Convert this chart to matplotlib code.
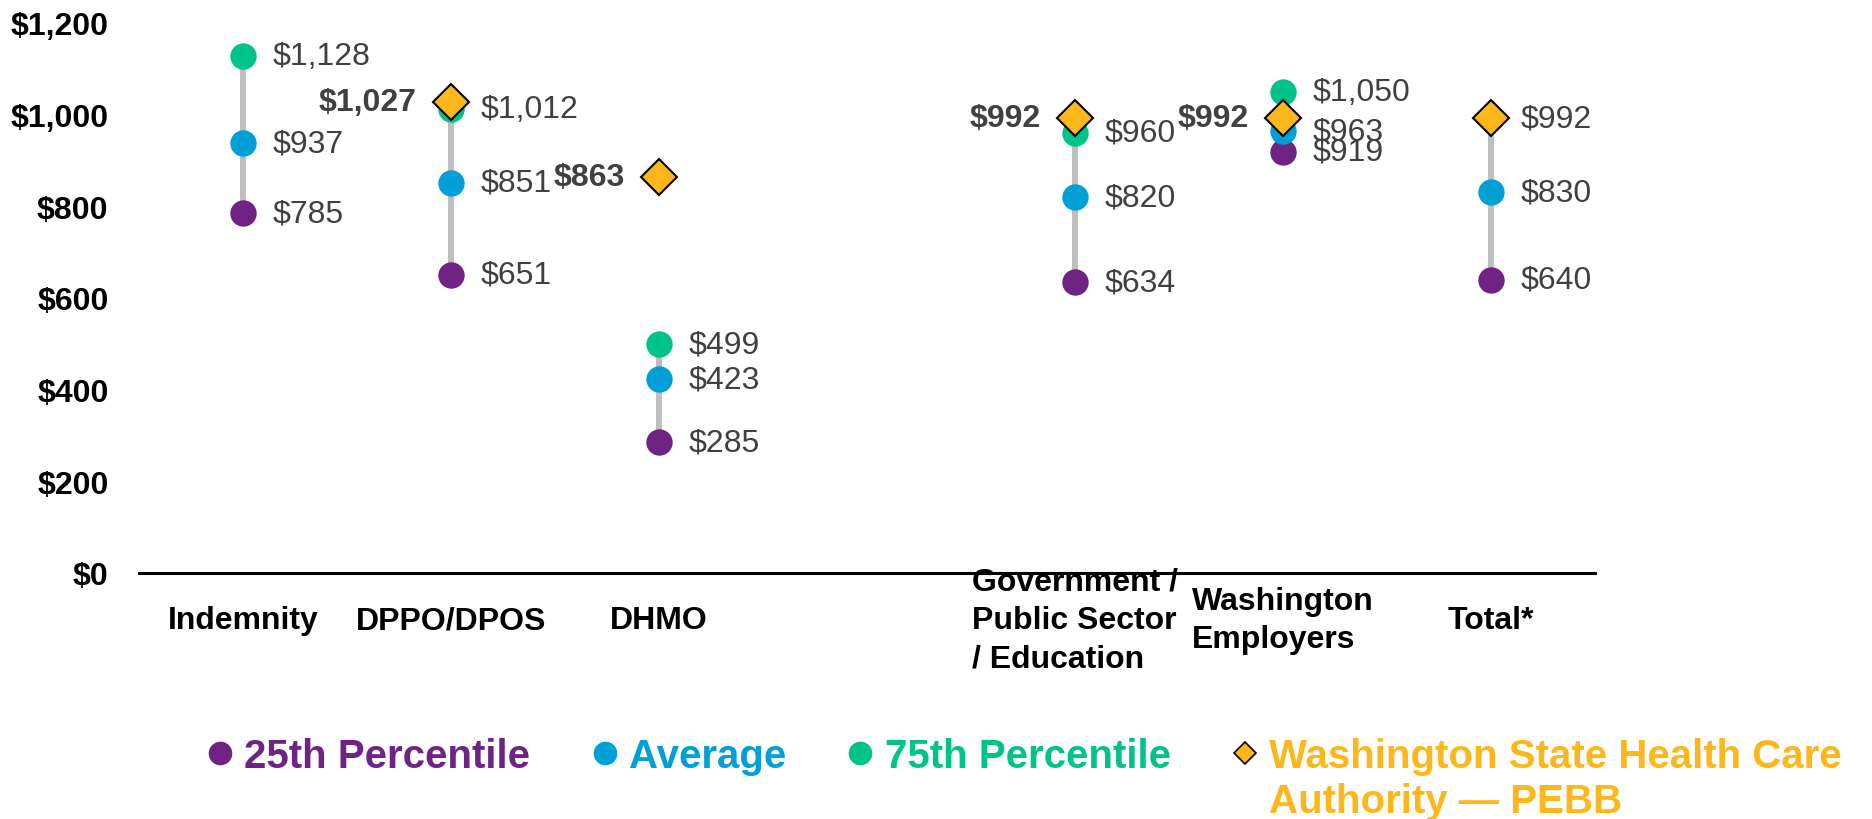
import matplotlib.pyplot as plt
from matplotlib.lines import Line2D
from matplotlib.ticker import FuncFormatter

plt.rcParams['font.family'] = ['Liberation Sans', 'DejaVu Sans']

# data
categories = ['Indemnity', 'DPPO/DPOS', 'DHMO', 'Government /\nPublic Sector\n/ Education',
              'Washington\nEmployers', 'Total*']
slots = [0, 1, 2, 4, 5, 6]  # slot 3 is left empty
p25 = [785, 651, 285, 634, 919, 640]
avg = [937, 851, 423, 820, 963, 830]
p75 = [1128, 1012, 499, 960, 1050, 992]
pebb = [None, 1027, 863, 992, 992, 992]
pebb_left_label = [False, True, True, True, True, False]

purple = '#6E2385'
blue = '#00A0D6'
green = '#00C389'
gold = '#FDB71A'
gray_txt = '#404040'

fig = plt.figure(figsize=(18.72, 8.2), dpi=100)
ax = fig.add_axes([0.0743, 0.300, 0.7778, 0.671])

ax.vlines(slots, p25, p75, color='#BFBFBF', lw=4.3, zorder=1)
ax.plot(slots, p25, 'o', color=purple, ms=19, mec='none', zorder=3)
ax.plot(slots, avg, 'o', color=blue, ms=19, mec='none', zorder=3)
ax.plot(slots, p75, 'o', color=green, ms=19, mec='none', zorder=3)

px = [s for s, v in zip(slots, pebb) if v is not None]
py = [v for v in pebb if v is not None]
ax.plot(px, py, 'D', color=gold, ms=18, mec='black', mew=1.5, zorder=4)


def money(v):
    return '${:,.0f}'.format(v)


for s, a, b, c in zip(slots, p25, avg, p75):
    for v in (a, b, c):
        ax.annotate(money(v), (s, v), xytext=(21, 0), textcoords='offset points',
                    ha='left', va='center', fontsize=23, color=gray_txt, zorder=5)

for s, v, show in zip(slots, pebb, pebb_left_label):
    if v is not None and show:
        ax.annotate(money(v), (s, v), xytext=(-25, 0), textcoords='offset points',
                    ha='right', va='center', fontsize=23, color=gray_txt,
                    fontweight='bold', zorder=5)

ax.set_xlim(-0.5, 6.5)
ax.set_ylim(0, 1200)
ax.set_yticks(range(0, 1201, 200))
ax.yaxis.set_major_formatter(FuncFormatter(lambda v, p: money(v)))
ax.set_xticks(slots)
ax.set_xticklabels(categories, fontsize=23, fontweight='bold', multialignment='left',
                   linespacing=1.36)
for lab in ax.get_xticklabels():
    lab.set_va('center')
for lab in ax.get_yticklabels():
    lab.set_fontsize(23)
    lab.set_fontweight('bold')
ax.tick_params(axis='y', length=0, pad=22)
ax.tick_params(axis='x', length=0, pad=34)
for sp in ['top', 'right', 'left']:
    ax.spines[sp].set_visible(False)
ax.spines['bottom'].set_linewidth(2.2)
ax.spines['bottom'].set_color('black')

# legend
handles = [
    Line2D([], [], marker='o', ls='none', color=purple, ms=17, mec='none'),
    Line2D([], [], marker='o', ls='none', color=blue, ms=17, mec='none'),
    Line2D([], [], marker='o', ls='none', color=green, ms=17, mec='none'),
    Line2D([], [], marker='D', ls='none', color=gold, ms=11, mec='black', mew=1.2),
]
labels = ['25th Percentile', 'Average', '75th Percentile', 'Washington State Health Care']
leg = fig.legend(handles, labels, ncol=4, loc='center left', bbox_to_anchor=(0.111, 0.077),
                 frameon=False, prop={'size': 29, 'weight': 'bold'},
                 labelcolor=[purple, blue, green, gold],
                 handlelength=0.6, handletextpad=0.3, columnspacing=1.55,
                 borderpad=0, borderaxespad=0)

fig.canvas.draw()
t4 = leg.get_texts()[3]
bb = t4.get_window_extent()
inv = fig.transFigure.inverted()
x0, y0 = inv.transform((bb.x0, bb.y0))
fig.text(x0, y0 - 0.009, 'Authority — PEBB', fontsize=29, fontweight='bold', color=gold,
         ha='left', va='top')

fig.savefig('out.png', dpi=100)
